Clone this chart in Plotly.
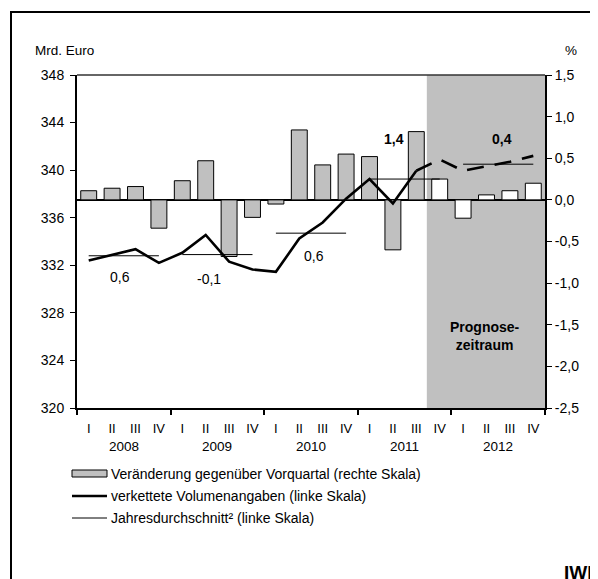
import plotly.graph_objects as go

# ---------------- data ----------------
quarters = ["I", "II", "III", "IV"]
years = ["2008", "2009", "2010", "2011", "2012"]
# quarterly change vs previous quarter, % (right scale)
pct_change = [0.11, 0.14, 0.16, -0.34, 0.23, 0.47, -0.68, -0.21, -0.05, 0.84,
              0.42, 0.55, 0.52, -0.60, 0.82, 0.25, -0.22, 0.06, 0.11, 0.20]
# chained volumes, bn Euro (left scale)
volume = [332.4, 332.9, 333.35, 332.2, 333.05, 334.55, 332.3, 331.65, 331.45, 334.25,
          335.6, 337.6, 339.25, 337.2, 339.95, 340.9, 339.95, 340.3, 340.7, 341.2]
# annual averages, bn Euro (left scale)
annual_avg = [332.8, 332.9, 334.7, 339.25, 340.5]
annual_growth = ["0,6", "-0,1", "0,6", "1,4", "0,4"]
n_actual = 15  # 2008 I .. 2011 III are actual values; rest forecast

left_ticks = [320, 324, 328, 332, 336, 340, 344, 348]
right_tickvals = [-2.5, -2.0, -1.5, -1.0, -0.5, 0.0, 0.5, 1.0, 1.5]
right_ticktext = ["-2,5", "-2,0", "-1,5", "-1,0", "-0,5", "0,0", "0,5", "1,0", "1,5"]

legend_labels = ["Veränderung gegenüber Vorquartal (rechte Skala)",
                 "verkettete Volumenangaben (linke Skala)",
                 "Jahresdurchschnitt² (linke Skala)"]

# ---------------- layout geometry ----------------
OFF = 8  # page body margin
W, H = 598 - OFF, 579 - OFF
L, R, T, B = 77 - OFF, 545 - OFF, 75 - OFF, 408 - OFF
PW, PH = R - L, B - T


def px(x):  # x in screenshot pixels -> paper
    return (x - OFF - L) / PW


def py(y):  # y in screenshot pixels -> paper
    return (B - (y - OFF)) / PH


FONT = "Liberation Sans, Arial, sans-serif"
FS = 14
n = len(pct_change)
xs = list(range(n))
xticktext = [q for _ in years for q in quarters]

fig = go.Figure()

bar_colors = ["#C0C0C0" if i < n_actual else "#FFFFFF" for i in xs]
fig.add_trace(go.Bar(x=xs, y=pct_change, yaxis="y", marker=dict(color=bar_colors,
                     line=dict(color="black", width=1)), showlegend=False, hoverinfo="skip"))

# annual average lines
ax, ay = [], []
for k, v in enumerate(annual_avg):
    ax += [4 * k, 4 * k + 3, None]
    ay += [v, v, None]
fig.add_trace(go.Scatter(x=ax, y=ay, yaxis="y2", mode="lines",
                         line=dict(color="black", width=1), showlegend=False))

fig.add_trace(go.Scatter(x=xs[:n_actual], y=volume[:n_actual], yaxis="y2", mode="lines",
                         line=dict(color="black", width=2.6), showlegend=False))
fig.add_trace(go.Scatter(x=xs[n_actual - 1:], y=volume[n_actual - 1:], yaxis="y2", mode="lines",
                         line=dict(color="black", width=2.6, dash="17px,11px"), showlegend=False))

shapes = []
# forecast shading
shapes.append(dict(type="rect", xref="x", yref="paper", x0=n_actual - 0.55, x1=n - 0.5,
                   y0=0, y1=1, fillcolor="#C0C0C0", line=dict(width=0), layer="below"))
# top border of plot area
shapes.append(dict(type="line", xref="paper", yref="paper", x0=0, x1=1, y0=1, y1=1,
                   line=dict(color="#333333", width=1.5)))
# outer frame
shapes.append(dict(type="rect", xref="paper", yref="paper", x0=px(11), x1=px(640),
                   y0=py(640), y1=py(12), line=dict(color="black", width=2)))
# legend symbols
shapes.append(dict(type="rect", xref="paper", yref="paper", x0=px(72), x1=px(107),
                   y0=py(477), y1=py(470), fillcolor="#C0C0C0", line=dict(color="black", width=1)))
shapes.append(dict(type="line", xref="paper", yref="paper", x0=px(72), x1=px(107),
                   y0=py(496), y1=py(496), line=dict(color="black", width=2.6)))
shapes.append(dict(type="line", xref="paper", yref="paper", x0=px(72), x1=px(107),
                   y0=py(518), y1=py(518), line=dict(color="black", width=1)))

ann = []
for i, lab in enumerate(legend_labels):
    ann.append(dict(text=lab, xref="paper", yref="paper", x=px(109), y=py([474, 496, 518][i]),
                    xanchor="left", yanchor="middle", showarrow=False,
                    font=dict(family=FONT, size=FS, color="black")))
for k, yr in enumerate(years):
    ann.append(dict(text=yr, xref="x", yref="paper", x=4 * k + 1.5, y=py(446),
                    xanchor="center", yanchor="middle", showarrow=False,
                    font=dict(family=FONT, size=13.5, color="black")))
# growth labels
gpos = [(1.34, 331.04, False), (5.14, 330.85, False), (9.63, 332.8, False),
        (13.05, 342.6, True), (17.65, 342.6, True)]
for (gx, gy, bold), lab in zip(gpos, annual_growth):
    ann.append(dict(text=f"<b>{lab}</b>" if bold else lab, xref="x", yref="y2", x=gx, y=gy,
                    xanchor="center", yanchor="middle", showarrow=False,
                    font=dict(family=FONT, size=FS, color="black")))
ann.append(dict(text="<b>Prognose-</b><br><b>zeitraum</b>", xref="x", yref="paper",
                x=16.94, y=py(336), xanchor="center", yanchor="middle", showarrow=False,
                font=dict(family=FONT, size=14, color="black")))
ann.append(dict(text="Mrd. Euro", xref="paper", yref="paper", x=px(33), y=py(50),
                xanchor="left", yanchor="middle", showarrow=False,
                font=dict(family=FONT, size=13.5, color="black")))
ann.append(dict(text="%", xref="paper", yref="paper", x=px(571), y=py(50),
                xanchor="center", yanchor="middle", showarrow=False,
                font=dict(family=FONT, size=13.5, color="black")))
ann.append(dict(text="<b>IWH</b>", xref="paper", yref="paper", x=px(562), y=py(572),
                xanchor="left", yanchor="middle", showarrow=False,
                font=dict(family=FONT, size=19, color="black")))

fig.update_layout(
    width=W, height=H,
    margin=dict(l=L, r=W - R, t=T, b=H - B, pad=0),
    paper_bgcolor="white", plot_bgcolor="white",
    showlegend=False, bargap=0.32,
    font=dict(family=FONT, size=FS, color="black"),
    xaxis=dict(range=[-0.5, n - 0.5], tickmode="array", tickvals=xs, ticktext=xticktext,
               ticks="", showgrid=False, zeroline=False, showline=True, linecolor="black",
               linewidth=2, ticklabelstandoff=7, tickfont=dict(size=13),
               minor=dict(tickmode="array", tickvals=[4 * k - 0.5 for k in range(len(years) + 1)],
                          ticks="outside", ticklen=5, tickcolor="black", tickwidth=1.5,
                          showgrid=False)),
    yaxis=dict(range=[-2.5, 1.5], side="right", tickmode="array", tickvals=right_tickvals,
               ticktext=right_ticktext, ticks="outside", ticklen=5, tickcolor="black",
               showgrid=False, zeroline=True, zerolinecolor="black", zerolinewidth=1.5,
               showline=True, linecolor="black", linewidth=2, tickfont=dict(size=FS)),
    yaxis2=dict(range=[320, 348], side="left", overlaying="y", tickmode="array",
                tickvals=left_ticks, ticks="outside", ticklen=5, tickcolor="black",
                showgrid=False, zeroline=False, showline=True, linecolor="black", linewidth=2,
                ticklabelstandoff=3, tickfont=dict(size=FS)),
    shapes=shapes, annotations=ann,
)

fig.write_html("out.html")
